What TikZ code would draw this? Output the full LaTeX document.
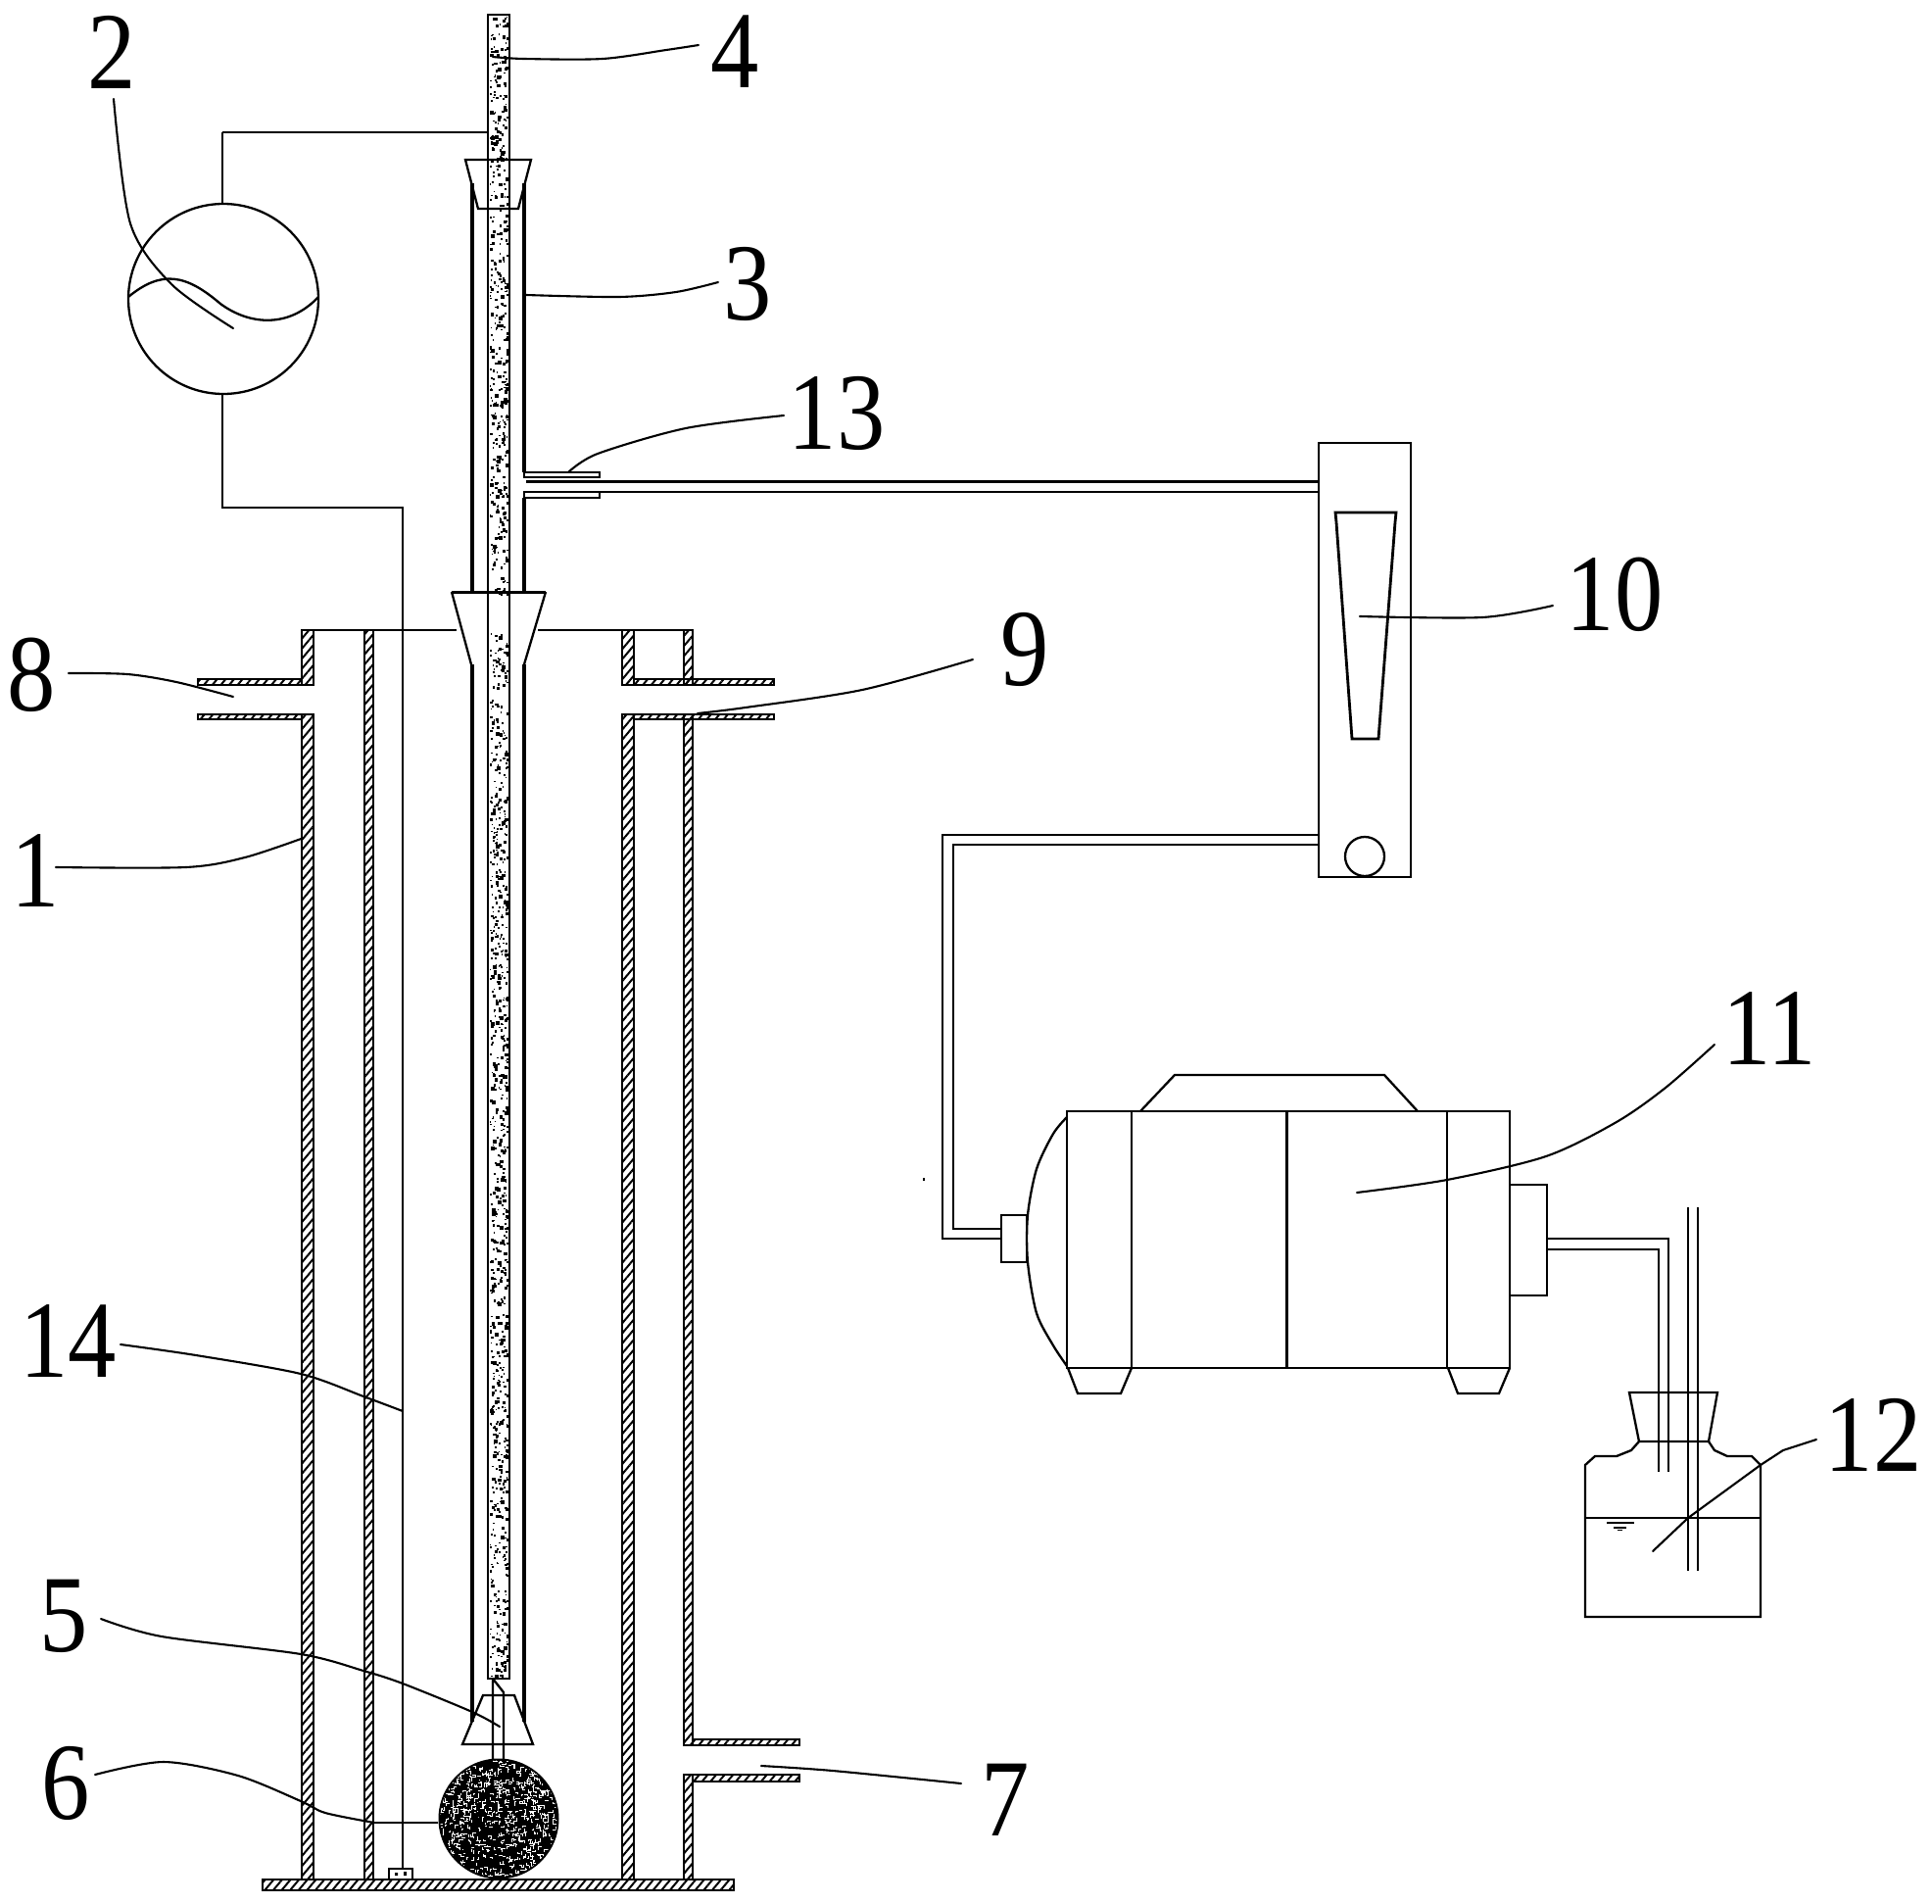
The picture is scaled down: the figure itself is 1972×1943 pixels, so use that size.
\documentclass[tikz,border=0pt]{standalone}
\usepackage{fontspec}
\setmainfont{Liberation Serif}
\usetikzlibrary{patterns.meta}
\tikzset{
  main/.style={line width=1.4pt,line join=miter},
  thin line/.style={line width=1.15pt,line join=miter},
  leader/.style={line width=1.05pt,line cap=round},
  hatched/.style={line width=1.2pt,pattern={Lines[angle=50,distance=3.3pt,line width=1pt]}},
  numlabel/.style={inner sep=0pt,font=\fontsize{56}{60}\selectfont},
}
\newcommand{\wallbox}[4]{\draw[hatched] (#1,#2) rectangle (#3,#4);}
\newcommand{\num}[1]{\scalebox{0.88}[1]{#1}}
\begin{document}
\begin{tikzpicture}[x=0.5pt,y=-0.5pt]
\useasboundingbox (0,0) rectangle (1972,1943);
\fill[white] (0,0) rectangle (1972,1943);
% ---- vessel walls
\wallbox{308}{643}{320}{699}\wallbox{308}{729}{320}{1918}
\wallbox{372}{643}{381}{1918}
\wallbox{635}{643}{647}{699}\wallbox{635}{729}{647}{1918}
\wallbox{698}{643}{707}{699}\wallbox{698}{729}{707}{1781}\wallbox{698}{1811}{707}{1918}
% nozzles
\wallbox{202}{693}{308}{699}\wallbox{202}{729}{308}{734}
\wallbox{647}{693}{790}{699}\wallbox{647}{729}{790}{734}
\wallbox{707}{1775}{816}{1781}\wallbox{707}{1811}{816}{1818}
\wallbox{268}{1918}{749}{1929}
% vessel top
\draw[thin line] (308,643) -- (466,643) (549,643) -- (707,643);
% ---- stipple of the rod
\pgfmathsetseed{4711}
\foreach \i in {1,...,1350}{
  \pgfmathsetmacro{\px}{499.5+rnd*18}
  \pgfmathsetmacro{\py}{17+rnd*1694}
  \pgfmathsetmacro{\ps}{1.4+rnd*rnd*3.2}
  \pgfmathparse{(\py>606 && \py<646) ? 0 : 1}
  \ifnum\pgfmathresult=1
    \fill (\px,\py) rectangle ++(\ps,\ps);
  \fi
}
% rod
\draw[thin line] (498,1713) -- (498,15) -- (520,15) -- (520,1713) -- cycle;
% probe below the rod
\draw[thin line] (503,1713) -- (503,1795) (503,1713) -- (514,1727) -- (514,1795);
% ---- reaction tube 3
\draw[line width=1.6pt] (482,187) -- (482,604) (482,678) -- (482,1757);
\draw[line width=2.1pt] (535,187) -- (535,482) (535,508) -- (535,604) (535,678) -- (535,1757);
% stoppers
\draw[thin line] (475,163) -- (542,163) -- (529,213) -- (488,213) -- cycle;
\draw[line width=1.5pt] (461,604) -- (557,604);
\draw[thin line] (461,604) -- (481,678) (557,604) -- (535,678);
\draw[thin line] (493,1730) -- (525,1730) -- (544,1780) -- (472,1780) -- cycle;
% side port 13
\draw[thin line] (535,482) rectangle (612,487);
\draw[thin line] (535,502) rectangle (612,508);
\draw[thin line] (537,491.5) -- (1346,491.5);
\draw[thin line] (612,502) -- (1346,502);
% ---- ball 6
\fill (509,1856) circle (61.5);
\begin{scope}
  \clip (509,1856) circle (59.5);
  \pgfmathsetseed{99}
  \foreach \i in {1,...,800}{
    \pgfmathsetmacro{\ax}{447+rnd*124}
    \pgfmathsetmacro{\ay}{1795+rnd*122}
    \pgfmathsetmacro{\bx}{\ax+rnd*8-4}
    \pgfmathsetmacro{\cy}{\ay+rnd*8-4}
    \draw[white,line width=0.5pt] (\ax,\ay) -- (\bx,\ay) -- (\bx,\cy);
  }
\end{scope}
% small block and wire 14
\draw[thin line] (397,1907) rectangle (421,1918);
\fill (403,1911) rectangle ++(3,3) (412,1910) rectangle ++(3,4);
\draw[thin line] (227,135) -- (498,135);
\draw[thin line] (227,135) -- (227,208);
\draw[thin line] (227,402) -- (227,518) -- (411,518) -- (411,1907);
\draw[line width=1.3pt] (382,1860) -- (447,1860);
% ---- meter 2
\draw[thin line] (228,305) circle (97);
\draw[thin line] (131,303) .. controls (165,275) and (190,280) .. (225,310) .. controls (255,332) and (295,335) .. (325,303);
% ---- flowmeter 10
\draw[thin line] (1346,452) rectangle (1440,895);
\draw[main] (1363,523) -- (1425,523) -- (1424,533) -- (1407,754) -- (1380,754) -- (1364,533) -- cycle;
\draw[thin line] (1393,874) circle (20);
% pipe to pump
\draw[thin line] (1346,852) -- (962,852) -- (962,1264) -- (1022,1264);
\draw[thin line] (1346,862) -- (973,862) -- (973,1254) -- (1022,1254);
% ---- pump 11
\draw[thin line] (1022,1240) rectangle (1048,1288);
\draw[main] (1089,1134) rectangle (1541,1396);
\draw[thin line] (1155,1134) -- (1155,1396) (1313.5,1134) -- (1313.5,1396) (1477,1134) -- (1477,1396);
\draw[thin line] (1164,1134) -- (1199,1097) -- (1413,1097) -- (1447,1134);
\draw[thin line] plot[smooth] coordinates {(1089,1140) (1075,1157) (1058,1193) (1049,1240) (1049,1288) (1058,1340) (1075,1373) (1089,1394)};
\draw[thin line] (1090,1396) -- (1100,1422) -- (1144,1422) -- (1155,1396);
\draw[thin line] (1478,1396) -- (1488,1422) -- (1530,1422) -- (1541,1396);
\draw[thin line] (1541,1209) -- (1579,1209) -- (1579,1322) -- (1541,1322);
\fill (942,1202) rectangle ++(2,3);
% pipe to bottle
\draw[main] (1579,1264) -- (1703,1264) -- (1703,1502);
\draw[thin line] (1579,1275) -- (1693,1275) -- (1693,1502);
\draw[main] (1723,1232) -- (1723,1603) (1733,1232) -- (1733,1603);
% ---- bottle 12
\draw[thin line] (1663,1421) -- (1753,1421) -- (1744,1471) -- (1673,1471) -- cycle;
\draw[thin line] (1673,1471) -- (1665,1480) -- (1650,1486) -- (1628,1486) -- (1618,1495) -- (1618,1650) -- (1797,1650) -- (1797,1495) -- (1788,1486) -- (1763,1486) -- (1750,1480) -- (1744,1471);
\draw[thin line] (1618,1549) -- (1797,1549);
\draw[thin line] (1640,1554) -- (1668,1554);
\draw[thin line] (1647,1559) -- (1660,1559);
\draw[line width=0.8pt] (1651,1561.5) -- (1656,1561.5);
% ---- leader lines
\draw[leader] plot[smooth] coordinates {(503,58) (535,60) (615,60) (680,51) (713,46)};
\draw[leader] plot[smooth] coordinates {(116,101) (133,228) (175,290) (238,335)};
\draw[leader] plot[smooth] coordinates {(537,301) (632,303) (690,298) (733,288)};
\draw[leader] plot[smooth] coordinates {(580,482) (610,463) (700,437) (800,424)};
\draw[leader] plot[smooth] coordinates {(1388,629) (1513,630) (1585,618)};
\draw[leader] plot[smooth] coordinates {(70,687) (130,688) (180,696) (238,711)};
\draw[leader] plot[smooth] coordinates {(712,728) (761,722) (880,704) (993,673)};
\draw[leader] plot[smooth] coordinates {(57,885) (190,885) (250,875) (310,855)};
\draw[leader] plot[smooth] coordinates {(1385,1217) (1477,1204) (1578,1180) (1650,1145) (1700,1110) (1750,1066)};
\draw[leader] plot[smooth] coordinates {(123,1372) (200,1383) (307,1402) (371,1425) (411,1440)};
\draw[leader] (1687,1583) -- (1723,1549) -- (1797,1495) -- (1820,1480) -- (1854,1469);
\draw[leader] plot[smooth] coordinates {(103,1652) (165,1670) (307,1688) (371,1705) (411,1718) (482,1747) (510,1762)};
\draw[leader] plot[smooth] coordinates {(97,1811) (167,1798) (243,1812) (307,1838) (332,1850) (382,1860)};
\draw[leader] plot[smooth] coordinates {(777,1802) (850,1807) (981,1820)};
% ---- labels
\node[numlabel] (n2) at (114,53) {\num{2}};
\node[numlabel] (n4) at (750,53) {\num{4}};
\node[numlabel] (n3) at (763,290) {\num{3}};
\node[numlabel] (n13) at (854,422) {\num{13}};
\node[numlabel] (n10) at (1648,607) {\num{10}};
\node[numlabel] (n8) at (32,689) {\num{8}};
\node[numlabel] (n9) at (1046,663) {\num{9}};
\node[numlabel] (n1) at (36,889) {\num{1}};
\node[numlabel] (n11) at (1806,1050) {\num{11}};
\node[numlabel] (n14) at (70,1369) {\num{14}};
\node[numlabel] (n12) at (1912,1464) {\num{12}};
\node[numlabel] (n5) at (65,1649) {\num{5}};
\node[numlabel] (n6) at (67,1820) {\num{6}};
\node[numlabel] (n7) at (1026,1837) {\num{7}};
\end{tikzpicture}
\end{document}
